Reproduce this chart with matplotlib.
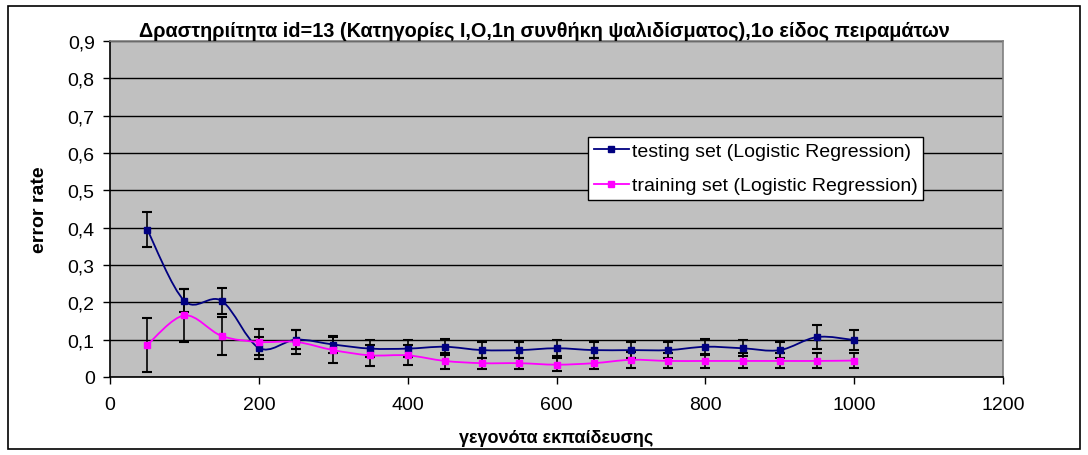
import matplotlib
matplotlib.use("Agg")
import matplotlib.pyplot as plt
import numpy as np
from matplotlib.path import Path
from matplotlib.patches import PathPatch, Rectangle
from matplotlib.ticker import FuncFormatter

plt.rcParams['font.family'] = ['Liberation Sans', 'DejaVu Sans']

events = [50, 100, 150, 200, 250, 300, 350, 400, 450, 500,
          550, 600, 650, 700, 750, 800, 850, 900, 950, 1000]
testing = [0.395, 0.204, 0.204, 0.078, 0.100, 0.087, 0.076, 0.076, 0.081, 0.072,
           0.072, 0.077, 0.072, 0.072, 0.072, 0.081, 0.077, 0.072, 0.107, 0.099]
testing_err = [0.048, 0.031, 0.034, 0.029, 0.026, 0.023, 0.022, 0.022, 0.021, 0.021,
               0.021, 0.021, 0.021, 0.022, 0.022, 0.021, 0.021, 0.021, 0.032, 0.026]
training = [0.086, 0.165, 0.110, 0.094, 0.094, 0.072, 0.058, 0.058, 0.043, 0.037,
            0.037, 0.033, 0.037, 0.046, 0.043, 0.043, 0.043, 0.043, 0.043, 0.044]
training_err = [0.072, 0.071, 0.050, 0.035, 0.032, 0.034, 0.029, 0.027, 0.022, 0.015,
                0.015, 0.017, 0.015, 0.022, 0.020, 0.019, 0.020, 0.020, 0.020, 0.020]

labels = ['testing set (Logistic Regression)', 'training set (Logistic Regression)']
colors = ['#000080', '#FF00FF']


def smooth_path(xs, ys):
    # excel style smoothed line: catmull-rom turned into bezier segments
    pts = np.column_stack([xs, ys]).astype(float)
    verts = [pts[0]]
    codes = [Path.MOVETO]
    n = len(pts)
    for i in range(n - 1):
        p0 = pts[i - 1] if i > 0 else pts[i]
        p1 = pts[i]
        p2 = pts[i + 1]
        p3 = pts[i + 2] if i + 2 < n else pts[i + 1]
        c1 = p1 + (p2 - p0) / 6.0
        c2 = p2 - (p3 - p1) / 6.0
        verts += [c1, c2, p2]
        codes += [Path.CURVE4] * 3
    return Path(verts, codes)


fig = plt.figure(figsize=(10.88, 4.56), dpi=100)
fig.patches.append(Rectangle((0.007, 0.013), 0.986, 0.972, transform=fig.transFigure,
                             fill=False, edgecolor='black', linewidth=1.2))

ax = fig.add_axes([110 / 1088, 1 - 378 / 456, 893 / 1088, 336 / 456])
ax.set_facecolor('#C0C0C0')

for ys, err, col, lab in [(testing, testing_err, colors[0], labels[0]),
                          (training, training_err, colors[1], labels[1])]:
    ax.errorbar(events, ys, yerr=err, fmt='none', ecolor='black', elinewidth=1.2,
                capsize=3.6, capthick=1.5, zorder=3)
    ax.add_patch(PathPatch(smooth_path(events, ys), fill=False, edgecolor=col,
                           linewidth=1.3, zorder=4))
    ax.plot(events, ys, linestyle='none', marker='s', markersize=5, color=col, zorder=5)
    ax.plot([], [], color=col, marker='s', markersize=4, linewidth=1.3, label=lab)

ax.set_xlim(0, 1200)
ax.set_ylim(0, 0.9)
ax.set_xticks(range(0, 1201, 200))
ax.set_yticks(np.arange(0, 0.91, 0.1))
ax.yaxis.set_major_formatter(FuncFormatter(lambda v, p: '0' if abs(v) < 1e-9 else f'{v:.1f}'.replace('.', ',')))
ax.grid(axis='y', color='black', linewidth=1)
ax.set_axisbelow(True)
ax.tick_params(direction='out', length=5, width=1, labelsize=14, color='black')
ax.tick_params(axis='x', pad=9)
ax.tick_params(axis='y', pad=6)

for s in ['top', 'right']:
    ax.spines[s].set_color('#808080')
    ax.spines[s].set_linewidth(1.2)
for s in ['left', 'bottom']:
    ax.spines[s].set_color('black')
    ax.spines[s].set_linewidth(1.2)

ax.set_xlabel('γεγονότα εκπαίδευσης', fontsize=13, fontweight='bold', labelpad=11)
ax.set_ylabel('error rate', fontsize=14, fontweight='bold', labelpad=14)
fig.text(0.5, 0.932, 'Δραστηριίτητα id=13 (Κατηγορίες I,O,1η συνθήκη ψαλιδίσματος),1ο είδος πειραμάτων',
         ha='center', va='center', fontsize=14.3, fontweight='bold')

leg = ax.legend(loc='upper left', bbox_to_anchor=(0.535, 0.715), fontsize=14,
                frameon=True, fancybox=False, shadow=False, handlelength=1.8,
                borderpad=0.3, labelspacing=0.85, handletextpad=0.15, borderaxespad=0)
leg.get_frame().set_edgecolor('black')
leg.get_frame().set_linewidth(1)
leg.get_frame().set_facecolor('white')
leg.get_frame().set_alpha(1)

fig.savefig('out.png', dpi=100)
